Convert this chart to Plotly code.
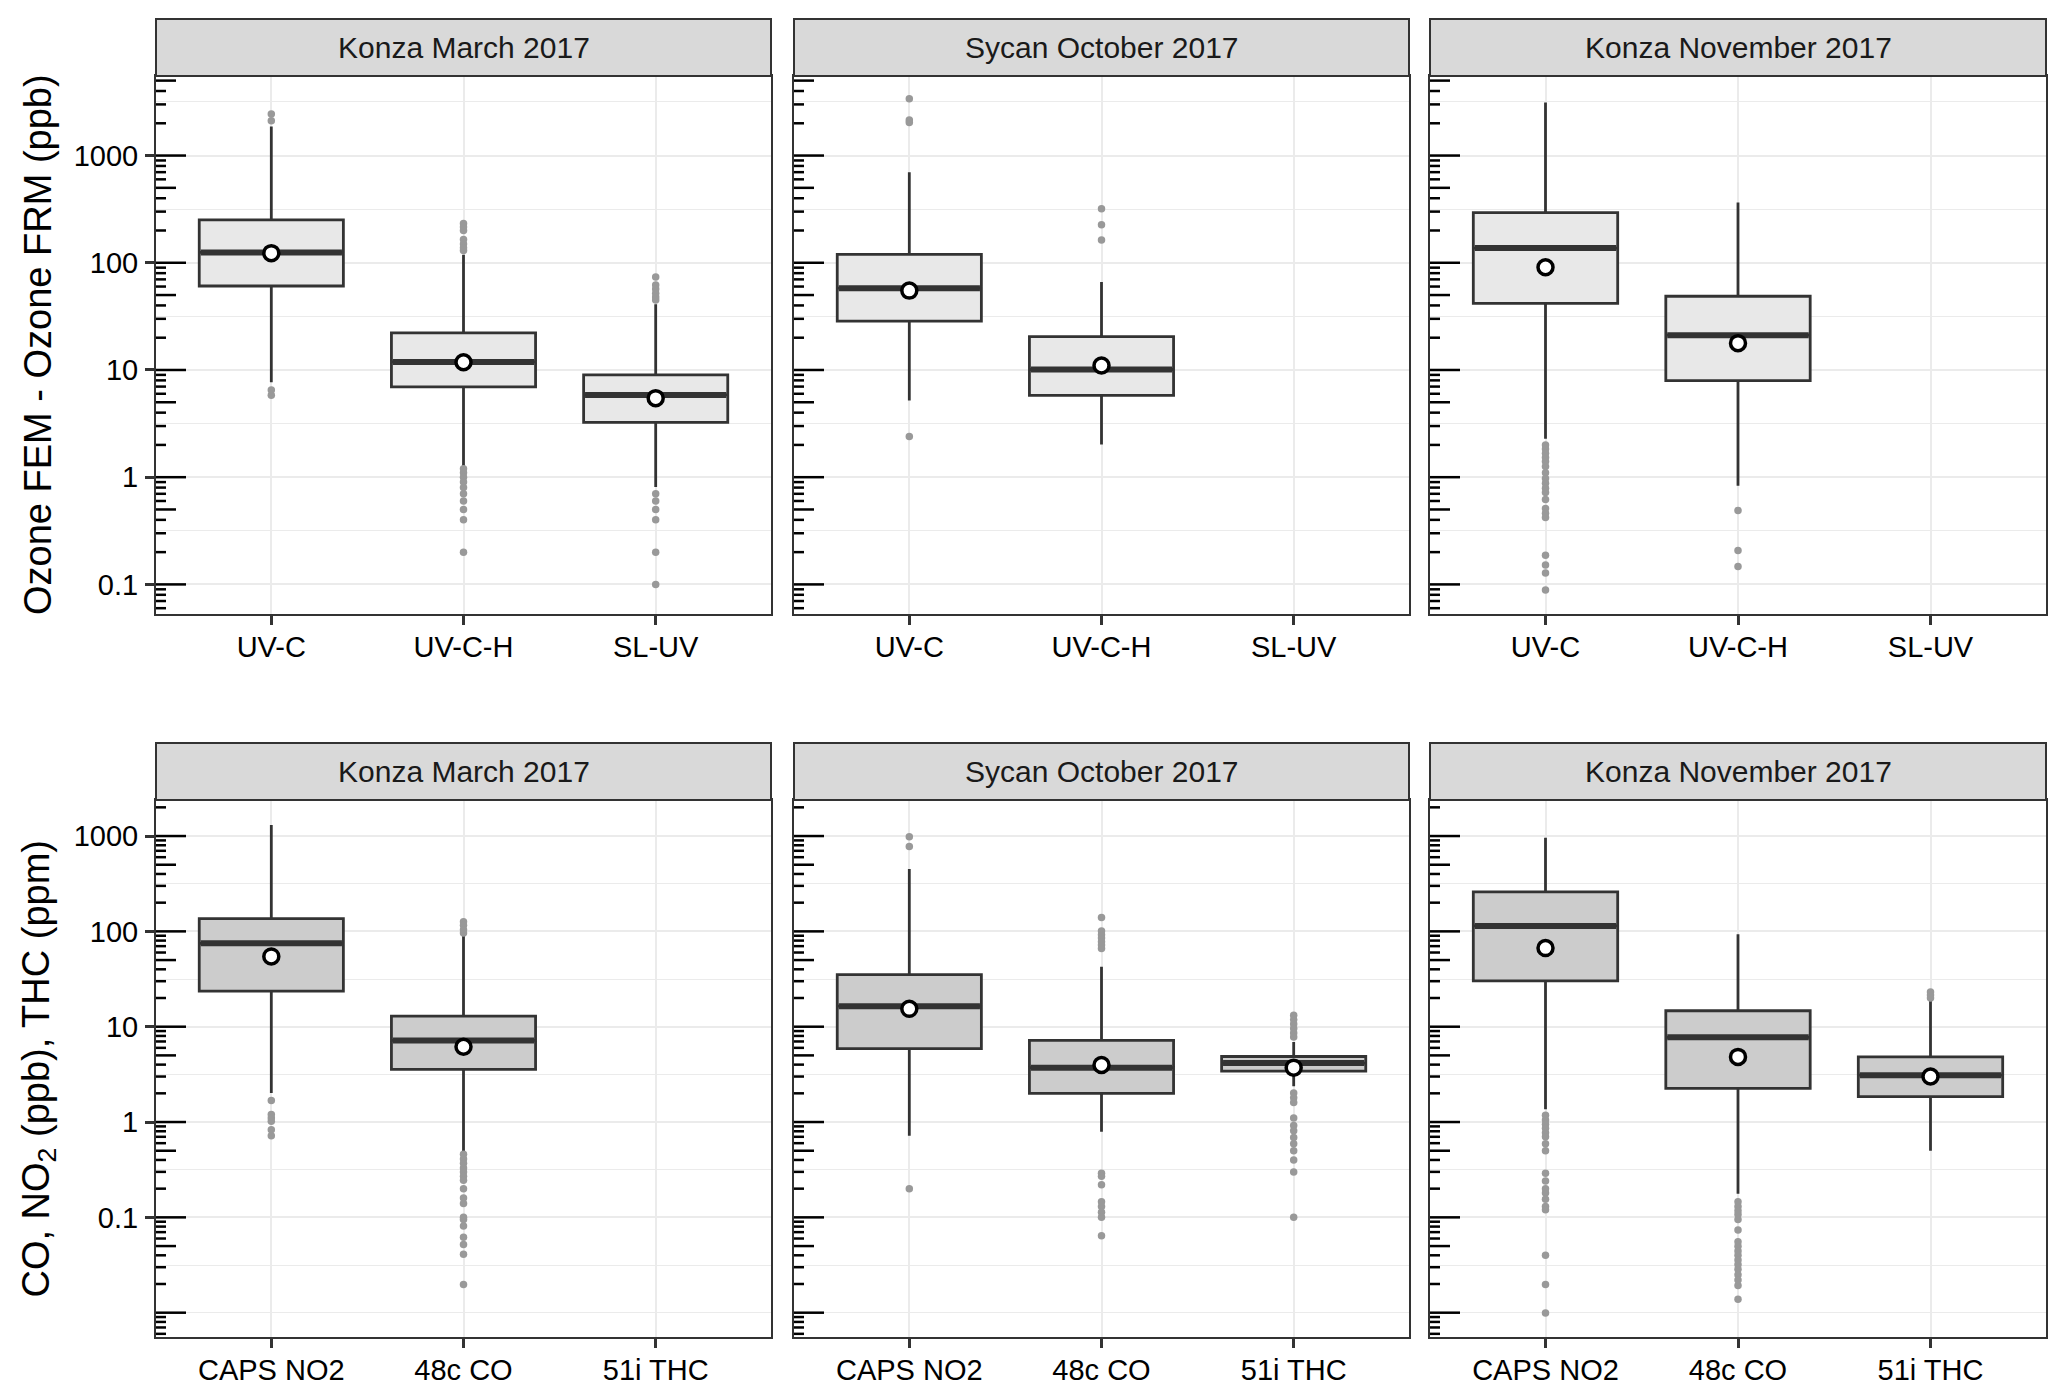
import math
import plotly.graph_objects as go

# ---------------- data ----------------
sites = ["Konza March 2017", "Sycan October 2017", "Konza November 2017"]
ozone_instruments = ["UV-C", "UV-C-H", "SL-UV"]
gas_instruments = ["CAPS NO2", "48c CO", "51i THC"]

# Ozone FEM - Ozone FRM (ppb); per site, per instrument
ozone_q1 = [[60.7, 6.95, 3.25], [28.5, 5.8, None], [41.8, 7.94, None]]
ozone_median = [[125, 11.9, 5.85], [58, 10.1, None], [137, 21.1, None]]
ozone_q3 = [[251, 22.2, 9.0], [120, 20.5, None], [293, 48.7, None]]
ozone_lower = [[7.7, 1.25, 0.81], [5.2, 2.02, None], [2.28, 0.83, None]]
ozone_upper = [[1865, 119, 41], [700, 66, None], [3133, 365, None]]
ozone_mean = [[123, 11.8, 5.46], [55, 11.0, None], [90.8, 17.8, None]]
ozone_outliers = [
    [[2440, 2115, 6.5, 5.8],
     [233, 215, 200, 165, 150, 138, 130, 1.2, 1.1, 1.0, 0.9, 0.8, 0.7, 0.6, 0.5, 0.4, 0.2],
     [73.5, 62, 57, 52, 48, 45, 0.7, 0.6, 0.5, 0.4, 0.2, 0.1]],
    [[3390, 2150, 2030, 2.4],
     [319, 226, 163],
     []],
    [[2.0, 1.83, 1.67, 1.53, 1.4, 1.26, 1.1, 0.97, 0.88, 0.79, 0.72, 0.62, 0.51,
      0.46, 0.42, 0.187, 0.152, 0.128, 0.0886],
     [0.49, 0.207, 0.147],
     []],
]

# CO, NO2 (ppb), THC (ppm); per site, per instrument
gas_q1 = [[23.6, 3.57, None], [5.9, 2.0, 3.42], [30.2, 2.25, 1.85]]
gas_median = [[75, 7.17, None], [16.4, 3.72, 4.15], [114, 7.73, 3.1]]
gas_q3 = [[136, 12.9, None], [35.2, 7.17, 4.87], [259, 14.7, 4.82]]
gas_lower = [[2.02, 0.474, None], [0.72, 0.79, 2.37], [1.36, 0.177, 0.5]]
gas_upper = [[1308, 91.3, None], [451, 42.6, 6.93], [958, 93, 19.2]]
gas_mean = [[54.6, 6.16, None], [15.4, 3.97, 3.72], [66.8, 4.82, 3.0]]
gas_outliers = [
    [[1.68, 1.2, 1.1, 1.02, 0.83, 0.72],
     [126, 116, 104, 96, 0.46, 0.41, 0.37, 0.33, 0.30, 0.27, 0.245, 0.2, 0.16,
      0.14, 0.10, 0.095, 0.081, 0.062, 0.052, 0.041, 0.0198],
     []],
    [[980, 775, 0.2],
     [140, 101, 92, 85, 78, 72, 66, 0.29, 0.27, 0.22, 0.146, 0.13, 0.113, 0.1, 0.064],
     [13.2, 11.9, 10.7, 9.6, 8.6, 7.8, 2.02, 1.8, 1.6, 1.1, 0.92, 0.81, 0.69,
      0.59, 0.5, 0.4, 0.3, 0.1]],
    [[1.18, 1.05, 0.95, 0.86, 0.77, 0.70, 0.59, 0.50, 0.29, 0.24, 0.2, 0.18,
      0.155, 0.13, 0.12, 0.04, 0.0198, 0.0099],
     [0.146, 0.13, 0.117, 0.107, 0.0948, 0.0735, 0.0555, 0.0497, 0.0445, 0.04,
      0.0357, 0.032, 0.0285, 0.025, 0.022, 0.0193, 0.0138],
     [23.1, 21.5, 20]],
]

y_tickvals = [0.1, 1, 10, 100, 1000]
y_ticktext = ["0.1", "1", "10", "100", "1000"]
y_titles = ["Ozone FEM - Ozone FRM (ppb)", "CO, NO<sub>2</sub> (ppb), THC (ppm)"]

# ---------------- layout geometry ----------------
OFF = 8                      # default page body margin
W, H = 2067 - 2 * OFF, 1397 - 2 * OFF
col_px = [(156 - OFF, 771 - OFF), (794 - OFF, 1409 - OFF), (1430 - OFF, 2046 - OFF)]
row_px = [(76 - OFF, 614 - OFF), (800 - OFF, 1337 - OFF)]
strip_h = 57
y_ranges = [(-1.276, 3.742), (-2.255, 3.378)]
box_fills = ["#e8e8e8", "#cccccc"]
FONT = "Liberation Sans, Arial, sans-serif"
DARK = "#333333"
GRID = "#ebebeb"

rows = [
    (ozone_instruments, ozone_q1, ozone_median, ozone_q3, ozone_lower, ozone_upper,
     ozone_mean, ozone_outliers),
    (gas_instruments, gas_q1, gas_median, gas_q3, gas_lower, gas_upper,
     gas_mean, gas_outliers),
]

fig = go.Figure()
layout = dict(
    width=W, height=H, template="none",
    margin=dict(l=0, r=0, t=0, b=0),
    paper_bgcolor="white", plot_bgcolor="white",
    showlegend=False, font=dict(family=FONT, color="black"),
    boxmode="overlay",
)
shapes = []
annotations = []

for r, (instr, q1s, meds, q3s, lws, uws, means, outs) in enumerate(rows):
    ytop, ybot = row_px[r]
    plot_h = ybot - ytop
    ylo, yhi = y_ranges[r]
    for c in range(3):
        n = r * 3 + c + 1
        sfx = "" if n == 1 else str(n)
        xa, ya = "x" + sfx, "y" + sfx
        x0p, x1p = col_px[c]
        panel_w = x1p - x0p
        for i in range(3):
            if q1s[c][i] is None:
                continue
            fig.add_trace(go.Box(
                x=[i], q1=[q1s[c][i]], median=[meds[c][i]], q3=[q3s[c][i]],
                lowerfence=[lws[c][i]], upperfence=[uws[c][i]],
                width=0.75, whiskerwidth=0, boxpoints=False,
                fillcolor=box_fills[r], line=dict(color=DARK, width=2.8),
                xaxis=xa, yaxis=ya, hoverinfo="skip"))
            m = meds[c][i]
            fig.add_trace(go.Box(
                x=[i], q1=[m], median=[m], q3=[m], lowerfence=[m], upperfence=[m],
                width=0.75 - 0.015, whiskerwidth=0, boxpoints=False,
                fillcolor="rgba(0,0,0,0)", line=dict(color=DARK, width=6),
                xaxis=xa, yaxis=ya, hoverinfo="skip"))
            if outs[c][i]:
                fig.add_trace(go.Scatter(
                    x=[i] * len(outs[c][i]), y=outs[c][i], mode="markers",
                    marker=dict(size=7.5, color="#999999"),
                    xaxis=xa, yaxis=ya, hoverinfo="skip"))
            fig.add_trace(go.Scatter(
                x=[i], y=[means[c][i]], mode="markers",
                marker=dict(size=15, color="white", line=dict(color="black", width=3.5)),
                xaxis=xa, yaxis=ya, hoverinfo="skip"))

        xdom = [x0p / W, x1p / W]
        ydom = [1 - ybot / H, 1 - ytop / H]
        kr = range(math.floor(ylo) - 1, math.ceil(yhi) + 1)
        minor_vals = [10 ** (k + 0.5) for k in kr if ylo <= k + 0.5 <= yhi]
        minor_vals += [10.0 ** k for k in kr if ylo <= k <= yhi
                       and not any(abs(10.0 ** k - v) < 1e-12 for v in y_tickvals)]
        layout["xaxis" + sfx] = dict(
            domain=xdom, anchor=ya, range=[-0.6, 2.6],
            tickmode="array", tickvals=[0, 1, 2], ticktext=instr,
            showgrid=True, gridcolor=GRID, gridwidth=2.2, zeroline=False,
            showline=True, mirror=True, linecolor=DARK, linewidth=2,
            ticks="outside", ticklen=9, tickwidth=2.5, tickcolor=DARK,
            tickfont=dict(size=29, color="black", family=FONT),
            ticklabelstandoff=-3, automargin=False, fixedrange=True)
        layout["yaxis" + sfx] = dict(
            domain=ydom, anchor=xa, type="log", range=[ylo, yhi],
            tickmode="array", tickvals=y_tickvals, ticktext=y_ticktext,
            showgrid=True, gridcolor=GRID, gridwidth=2.2, zeroline=False,
            minor=dict(tickmode="array", tickvals=minor_vals, showgrid=True,
                       gridcolor=GRID, gridwidth=1.2, ticks=""),
            showline=True, mirror=True, linecolor=DARK, linewidth=2,
            ticks="outside" if c == 0 else "", ticklen=9, tickwidth=2.5, tickcolor=DARK,
            showticklabels=(c == 0),
            tickfont=dict(size=29, color="black", family=FONT),
            ticklabelstandoff=1, automargin=False, fixedrange=True)

        # annotation_logticks-style marks on the left side of each panel
        for k in kr:
            for mlt in range(1, 10):
                lv = k + math.log10(mlt)
                if not (ylo <= lv <= yhi):
                    continue
                val = mlt * 10.0 ** k
                L = 30 if mlt == 1 else (20 if mlt == 5 else 10)
                shapes.append(dict(
                    type="line", xref=xa + " domain", yref=ya,
                    x0=0, x1=L / panel_w, y0=val, y1=val,
                    line=dict(color="black", width=2.5), layer="above"))

        # facet strip
        shapes.append(dict(
            type="rect", xref=xa + " domain", yref=ya + " domain",
            x0=0, x1=1, y0=1, y1=1 + strip_h / plot_h,
            fillcolor="#d9d9d9", line=dict(color=DARK, width=2), layer="above"))
        annotations.append(dict(
            xref=xa + " domain", yref=ya + " domain", x=0.5,
            y=1 + strip_h / 2 / plot_h, text=sites[c], showarrow=False,
            xanchor="center", yanchor="middle",
            font=dict(size=30, color="#1a1a1a", family=FONT)))

    annotations.append(dict(
        xref="paper", yref="paper", x=(38 - OFF) / W, y=1 - (ytop + ybot) / 2 / H,
        text=y_titles[r], textangle=-90, showarrow=False,
        xanchor="center", yanchor="middle",
        font=dict(size=38, color="black", family=FONT)))

layout["shapes"] = shapes
layout["annotations"] = annotations
fig.update_layout(**layout)
fig.write_html("out.html")
